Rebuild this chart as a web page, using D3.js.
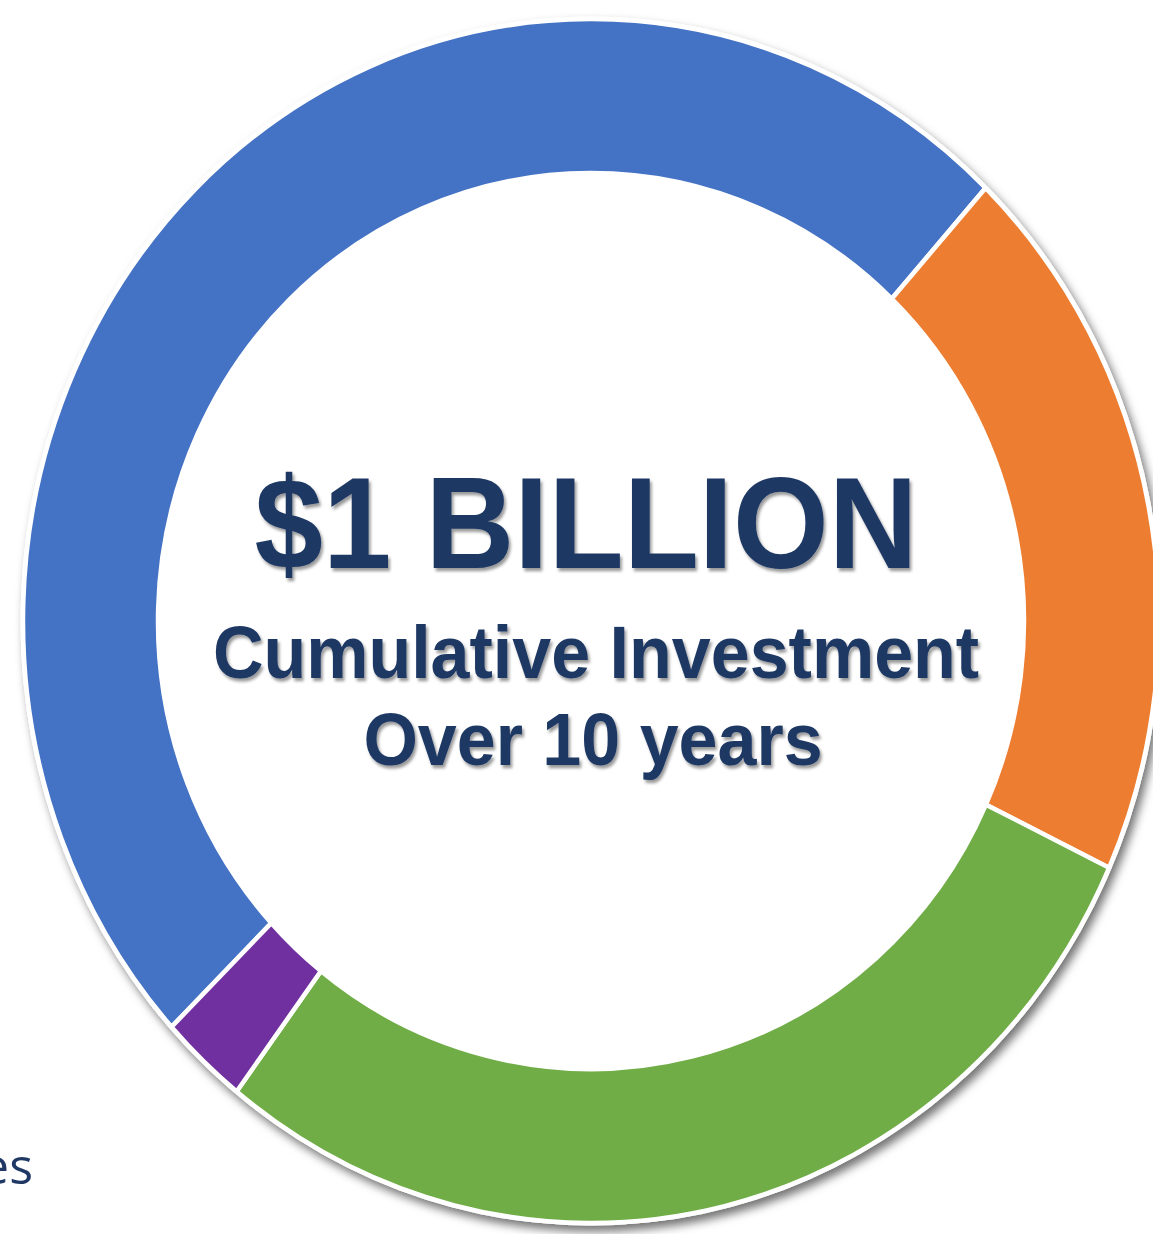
<!DOCTYPE html>
<html>
<head>
<meta charset="utf-8">
<title>$1 Billion Cumulative Investment</title>
<script src="https://cdn.jsdelivr.net/npm/d3@7/dist/d3.min.js"></script>
<style>
  html, body { margin: 0; padding: 0; background: #ffffff; }
  svg { display: block; }
</style>
</head>
<body>
<script>
// Investment split (in $ millions, totalling $1 billion)
const categories = ["Segment 1", "Segment 2", "Segment 3", "Segment 4"];
const values = [490, 195, 290, 25];
const colors = ["#4472c4", "#ed7d31", "#70ad47", "#7030a0"];

// Centre text lines
const headline = "$1 BILLION";
const subLines = ["Cumulative Investment", "Over 10 years"];
const legendFragment = "es";

const W = 1153, H = 1234;
const cx = 591, cy = 621;
// ring radii (horizontal / vertical) — the ring is drawn slightly taller than wide
const rxOuter = 568, ryOuter = 602;
const rxInner = 433, ryInner = 448;

const svg = d3.select("body").append("svg")
  .attr("width", W).attr("height", H)
  .attr("viewBox", `0 0 ${W} ${H}`);

const defs = svg.append("defs");

const ringShadow = defs.append("filter").attr("id", "ringShadow")
  .attr("x", "-10%").attr("y", "-10%").attr("width", "120%").attr("height", "120%");
ringShadow.append("feDropShadow")
  .attr("dx", 4).attr("dy", 6).attr("stdDeviation", 5)
  .attr("flood-color", "#000").attr("flood-opacity", 0.55);

const textShadow = defs.append("filter").attr("id", "textShadow")
  .attr("x", "-5%").attr("y", "-20%").attr("width", "110%").attr("height", "150%");
textShadow.append("feDropShadow")
  .attr("dx", 2).attr("dy", 3).attr("stdDeviation", 1.6)
  .attr("flood-color", "#000").attr("flood-opacity", 0.4);

svg.append("rect").attr("width", W).attr("height", H).attr("fill", "#ffffff");

// Pie layout: first slice begins in the lower-left and runs clockwise
const pie = d3.pie().sort(null).value(d => d)
  .startAngle(-132.4 * Math.PI / 180)
  .endAngle((360 - 132.4) * Math.PI / 180);
const arcs = pie(values);

// Elliptical ring segment built from the pie angles
function pt(a, rx, ry) {
  return [cx + rx * Math.sin(a), cy - ry * Math.cos(a)];
}
function ellipseArc(d) {
  const a0 = d.startAngle, a1 = d.endAngle;
  const large = (a1 - a0) > Math.PI ? 1 : 0;
  const o0 = pt(a0, rxOuter, ryOuter), o1 = pt(a1, rxOuter, ryOuter);
  const i0 = pt(a0, rxInner, ryInner), i1 = pt(a1, rxInner, ryInner);
  return `M${o0[0]},${o0[1]}` +
    `A${rxOuter},${ryOuter} 0 ${large} 1 ${o1[0]},${o1[1]}` +
    `L${i1[0]},${i1[1]}` +
    `A${rxInner},${ryInner} 0 ${large} 0 ${i0[0]},${i0[1]}Z`;
}

// White disc behind the ring carries the soft outer shadow
svg.append("ellipse")
  .attr("cx", cx).attr("cy", cy)
  .attr("rx", rxOuter + 2.5).attr("ry", ryOuter + 2.5)
  .attr("fill", "#ffffff")
  .attr("filter", "url(#ringShadow)");

svg.append("g").attr("class", "slices")
  .selectAll("path")
  .data(arcs)
  .join("path")
  .attr("d", ellipseArc)
  .attr("fill", (d, i) => colors[i])
  .attr("stroke", "#ffffff")
  .attr("stroke-width", 4.5)
  .attr("stroke-linejoin", "miter")
  .append("title").text((d, i) => `${categories[i]}: $${d.data}M`);

// Centre label
const txt = svg.append("g")
  .attr("fill", "#1f3864")
  .attr("font-family", "'Liberation Sans', Arial, sans-serif")
  .attr("font-weight", "bold")
  .attr("text-anchor", "middle");

txt.append("text")
  .attr("transform", "translate(586,568) scale(1,1.05)")
  .attr("font-size", 123)
  .attr("filter", "url(#textShadow)")
  .text(headline);

const subPos = [[596, 678], [593, 765]];
subLines.forEach((s, i) => {
  txt.append("text")
    .attr("transform", `translate(${subPos[i][0]},${subPos[i][1]}) scale(1,1.05)`)
    .attr("font-size", 70)
    .attr("filter", "url(#textShadow)")
    .text(s);
});

// Edge of a legend entry at the bottom-left
svg.append("text")
  .attr("x", 33).attr("y", 1184)
  .attr("text-anchor", "end")
  .attr("font-family", "'Open Sans', 'Noto Sans', sans-serif")
  .attr("font-size", 50)
  .attr("fill", "#1f3864")
  .text(legendFragment);
</script>
</body>
</html>
